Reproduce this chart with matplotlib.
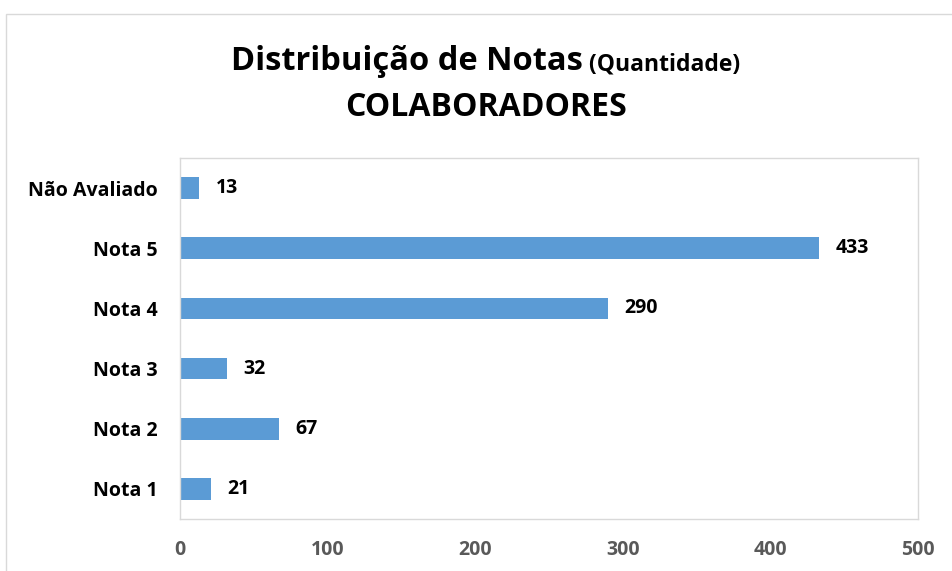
import matplotlib.pyplot as plt
from matplotlib.patches import Rectangle

# data
categorias = ['Nota 1', 'Nota 2', 'Nota 3', 'Nota 4', 'Nota 5', 'Não Avaliado']
quantidades = [21, 67, 32, 290, 433, 13]
xticks = [0, 100, 200, 300, 400, 500]

plt.rcParams['font.family'] = ['Open Sans', 'DejaVu Sans']

fig = plt.figure(figsize=(9.53, 5.71), dpi=100)
ax = fig.add_axes([0.1889, 0.0911, 0.7744, 0.6322])

bar_color = '#5b9bd5'
pos = list(range(len(categorias)))
bars = ax.barh(pos, quantidades, height=0.36, color=bar_color)

for p, v in zip(pos, quantidades):
    ax.text(v + 11, p, str(v), va='center', ha='left', fontsize=14,
            fontweight='bold', color='black')

ax.set_xlim(0, 500)
ax.set_ylim(-0.5, 5.5)
ax.set_yticks(pos)
ax.set_yticklabels(categorias, fontsize=14, fontweight='bold', color='black')
ax.set_xticks(xticks)
ax.set_xticklabels([str(t) for t in xticks], fontsize=14, fontweight='bold',
                   color='#595959')
ax.tick_params(axis='both', length=0)
ax.tick_params(axis='y', pad=16)
ax.tick_params(axis='x', pad=15)
for s in ax.spines.values():
    s.set_color('#d9d9d9')
    s.set_linewidth(1)

# outer chart border
fig.patches.append(Rectangle((6 / 953, -0.1), 1.2, 1 - 14 / 571 + 0.1,
                             transform=fig.transFigure, fill=False,
                             edgecolor='#d9d9d9', linewidth=1))

# title with mixed sizes
t1 = fig.text(0, 1 - 70 / 571, 'Distribuição de Notas', fontsize=23.5,
              fontweight='bold', va='baseline', ha='left')
t2 = fig.text(0, 1 - 70 / 571, ' (Quantidade)', fontsize=16.5,
              fontweight='bold', va='baseline', ha='left')
fig.canvas.draw()
r = fig.canvas.get_renderer()
w1 = t1.get_window_extent(r).width
w2 = t2.get_window_extent(r).width
x0 = 486 - (w1 + w2) / 2
t1.set_x(x0 / 953)
t2.set_x((x0 + w1) / 953)
fig.text(486 / 953, 1 - 116 / 571, 'COLABORADORES', fontsize=23,
         fontweight='bold', va='baseline', ha='center')

fig.savefig('out.png', dpi=100)
